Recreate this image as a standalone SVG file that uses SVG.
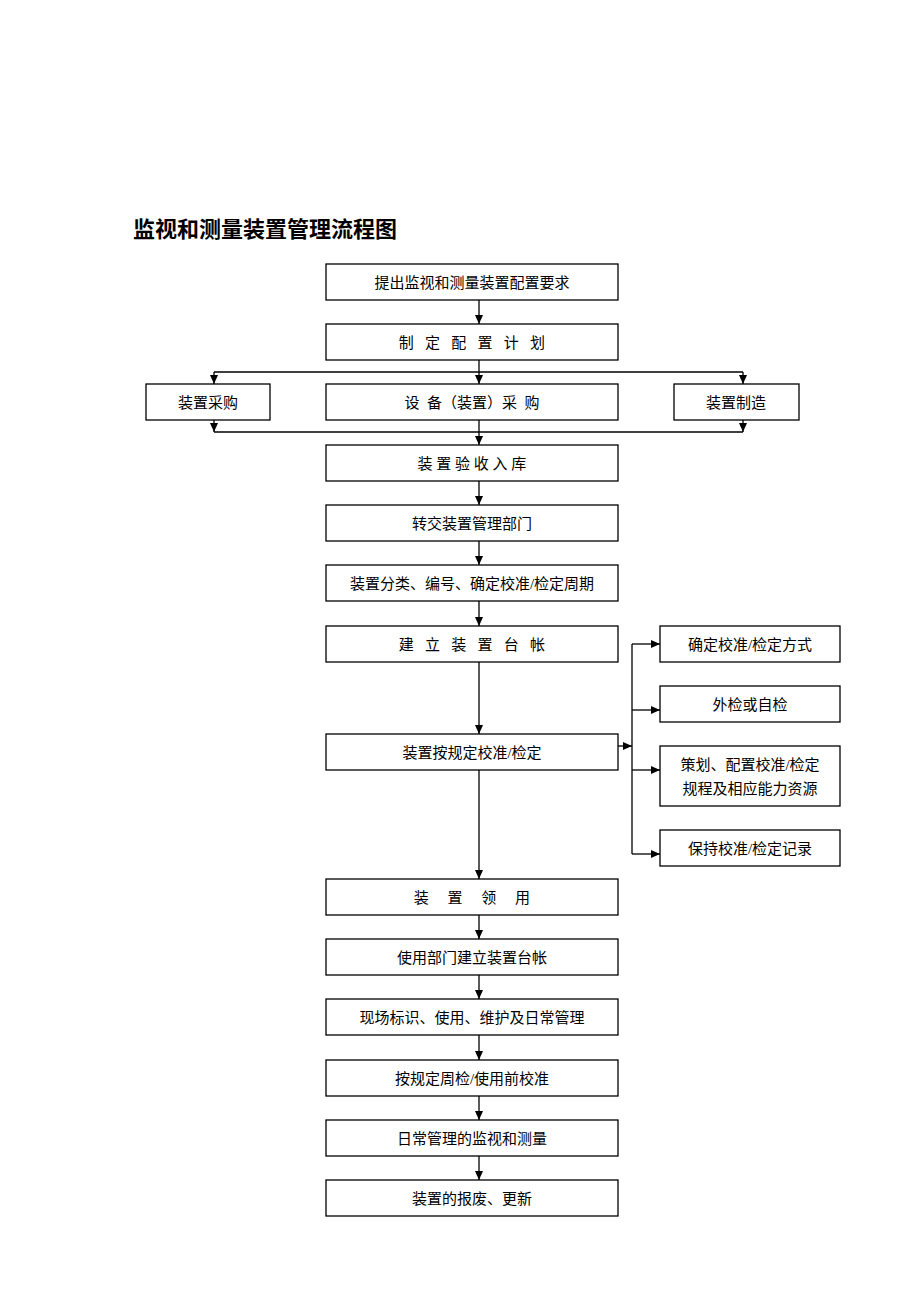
<svg xmlns="http://www.w3.org/2000/svg" width="920" height="1302" viewBox="0 0 920 1302">
<style>
rect.b{fill:#fff;stroke:#000;stroke-width:1.3}
text{font-family:"Liberation Serif","Noto Sans CJK SC",serif;font-size:15px;fill:#000;text-anchor:middle}
.l{fill:none;stroke:#000;stroke-width:1.3}
</style>
<defs><marker id="a" markerWidth="10" markerHeight="10" refX="9" refY="5" orient="auto" markerUnits="userSpaceOnUse"><path d="M0,1 L9,5 L0,9 Z" fill="#000"/></marker></defs>
<rect width="920" height="1302" fill="#fff"/>
<text x="133" y="237" style="text-anchor:start;font-size:22px;font-weight:bold">监视和测量装置管理流程图</text>
<g id="connectors">
<path class="l" d="M479,300V324" marker-end="url(#a)"/>
<path class="l" d="M479,360V384" marker-end="url(#a)"/>
<path class="l" d="M214,372H743"/>
<path class="l" d="M214,372V384" marker-end="url(#a)"/>
<path class="l" d="M743,372V384" marker-end="url(#a)"/>
<path class="l" d="M214,420V432" marker-end="url(#a)"/>
<path class="l" d="M743,420V432" marker-end="url(#a)"/>
<path class="l" d="M214,432H743"/>
<path class="l" d="M479,420V445" marker-end="url(#a)"/>
<path class="l" d="M479,481V505" marker-end="url(#a)"/>
<path class="l" d="M479,541V565" marker-end="url(#a)"/>
<path class="l" d="M479,601V626" marker-end="url(#a)"/>
<path class="l" d="M479,662V734" marker-end="url(#a)"/>
<path class="l" d="M479,770V879" marker-end="url(#a)"/>
<path class="l" d="M479,915V939" marker-end="url(#a)"/>
<path class="l" d="M479,975V999" marker-end="url(#a)"/>
<path class="l" d="M479,1035V1060" marker-end="url(#a)"/>
<path class="l" d="M479,1096V1120" marker-end="url(#a)"/>
<path class="l" d="M479,1156V1180" marker-end="url(#a)"/>
<path class="l" d="M618,746H632" marker-end="url(#a)"/>
<path class="l" d="M632,644V854"/>
<path class="l" d="M632,644H660" marker-end="url(#a)"/>
<path class="l" d="M632,710H660" marker-end="url(#a)"/>
<path class="l" d="M632,770H660" marker-end="url(#a)"/>
<path class="l" d="M632,854H660" marker-end="url(#a)"/>
</g>
<g id="n1"><rect class="b" x="326" y="264" width="292" height="36"/><text x="472" y="288">提出监视和测量装置配置要求</text></g>
<g id="n2"><rect class="b" x="326" y="324" width="292" height="36"/><text x="472" y="348" xml:space="preserve">制   定   配   置   计   划</text></g>
<g id="n3a"><rect class="b" x="146" y="384" width="124" height="36"/><text x="208" y="408">装置采购</text></g>
<g id="n3"><rect class="b" x="326" y="384" width="292" height="36"/><text x="472" y="408" xml:space="preserve">设  备（装置）采  购</text></g>
<g id="n3b"><rect class="b" x="674" y="384" width="125" height="36"/><text x="736" y="408">装置制造</text></g>
<g id="n4"><rect class="b" x="326" y="445" width="292" height="36"/><text x="472" y="469" xml:space="preserve">装 置 验 收 入 库</text></g>
<g id="n5"><rect class="b" x="326" y="505" width="292" height="36"/><text x="472" y="529">转交装置管理部门</text></g>
<g id="n6"><rect class="b" x="326" y="565" width="292" height="36"/><text x="472" y="589">装置分类、编号、确定校准/检定周期</text></g>
<g id="n7"><rect class="b" x="326" y="626" width="292" height="36"/><text x="472" y="650" xml:space="preserve">建   立   装   置   台   帐</text></g>
<g id="n8"><rect class="b" x="326" y="734" width="292" height="36"/><text x="472" y="758">装置按规定校准/检定</text></g>
<g id="r1"><rect class="b" x="660" y="626" width="180" height="36"/><text x="750" y="650">确定校准/检定方式</text></g>
<g id="r2"><rect class="b" x="660" y="686" width="180" height="36"/><text x="750" y="710">外检或自检</text></g>
<g id="r3"><rect class="b" x="660" y="746" width="180" height="60"/><text x="750" y="770">策划、配置校准/检定</text><text x="750" y="794">规程及相应能力资源</text></g>
<g id="r4"><rect class="b" x="660" y="830" width="180" height="36"/><text x="750" y="854">保持校准/检定记录</text></g>
<g id="n9"><rect class="b" x="326" y="879" width="292" height="36"/><text x="472" y="903" xml:space="preserve">装     置     领     用</text></g>
<g id="n10"><rect class="b" x="326" y="939" width="292" height="36"/><text x="472" y="963">使用部门建立装置台帐</text></g>
<g id="n11"><rect class="b" x="326" y="999" width="292" height="36"/><text x="472" y="1023">现场标识、使用、维护及日常管理</text></g>
<g id="n12"><rect class="b" x="326" y="1060" width="292" height="36"/><text x="472" y="1084">按规定周检/使用前校准</text></g>
<g id="n13"><rect class="b" x="326" y="1120" width="292" height="36"/><text x="472" y="1144">日常管理的监视和测量</text></g>
<g id="n14"><rect class="b" x="326" y="1180" width="292" height="36"/><text x="472" y="1204">装置的报废、更新</text></g>
</svg>
